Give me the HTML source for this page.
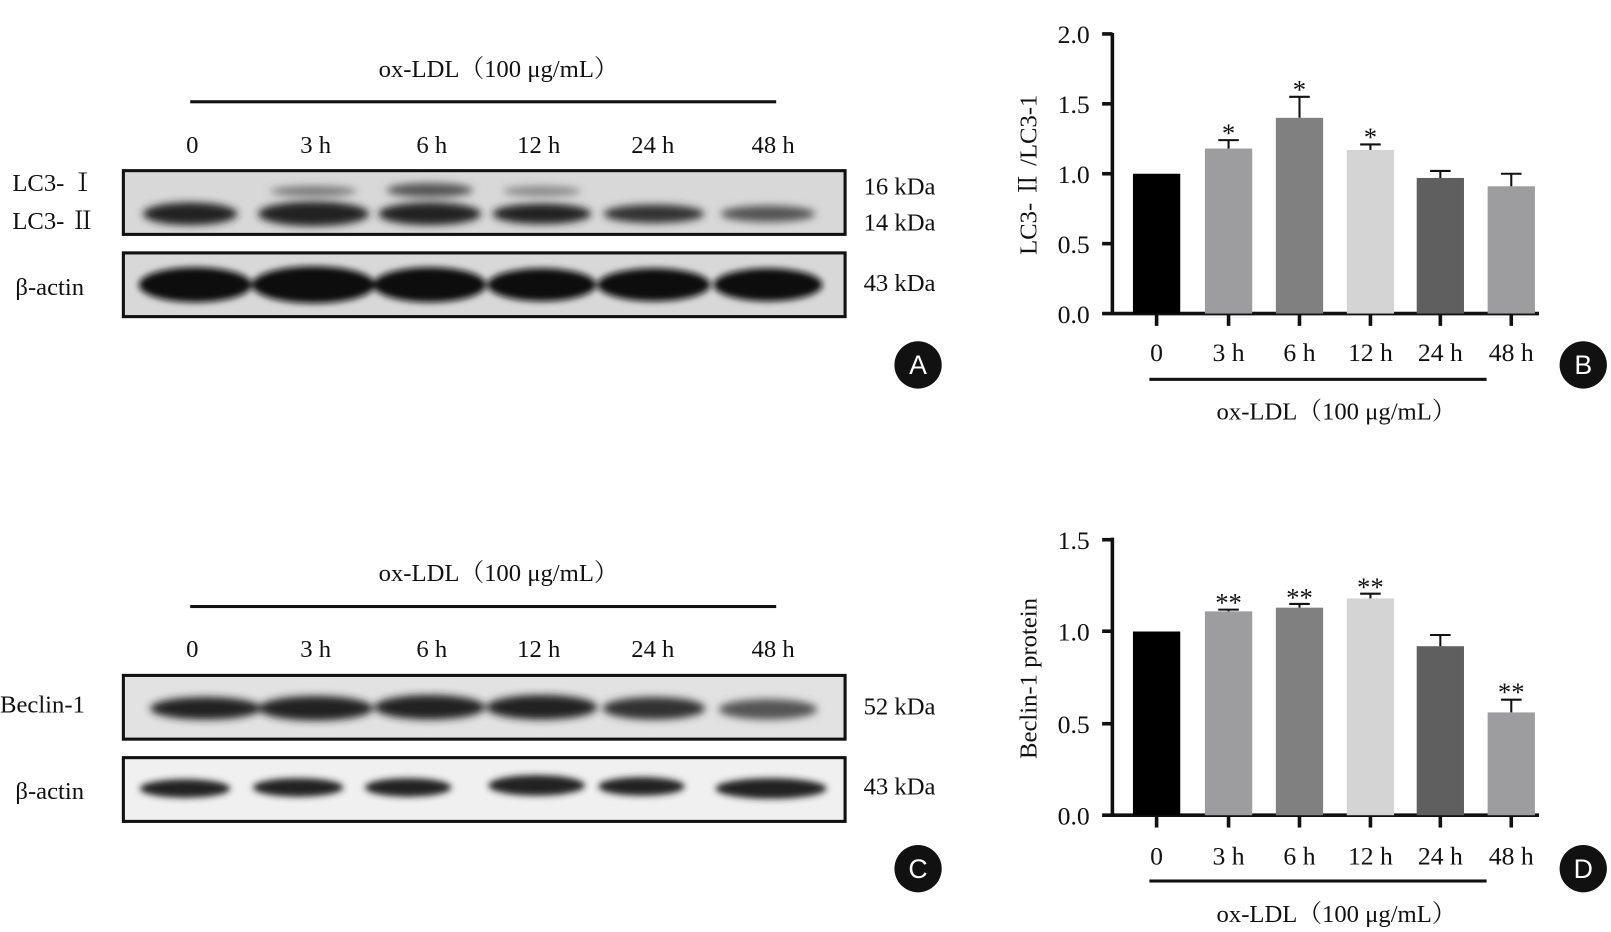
<!DOCTYPE html>
<html><head><meta charset="utf-8"><style>
html,body{margin:0;padding:0;background:#fff;}
svg{display:block;}
text{font-family:"Liberation Serif","Noto Serif CJK SC",serif;fill:#111;}
</style></head><body>
<svg width="1611" height="932" viewBox="0 0 1567 906.6" preserveAspectRatio="none" xmlns="http://www.w3.org/2000/svg">
<defs>
<filter id="bl" x="-30%" y="-80%" width="160%" height="260%"><feGaussianBlur stdDeviation="4"/></filter>
<filter id="bl2" x="-30%" y="-80%" width="160%" height="260%"><feGaussianBlur stdDeviation="3"/></filter>
</defs>
<g font-size="24">
<!-- Panel A -->
<text x="485" y="75" text-anchor="middle">ox-LDL（100 μg/mL）</text>
<rect x="185" y="97.5" width="570" height="3" fill="#111"/>
<g text-anchor="middle"><text x="187" y="149">0</text><text x="307" y="149">3 h</text><text x="420" y="149">6 h</text><text x="524" y="149">12 h</text><text x="635" y="149">24 h</text><text x="752" y="149">48 h</text></g>
<rect x="120" y="166" width="702" height="62" fill="#d8d8d8" stroke="#111" stroke-width="3"/>
<g filter="url(#bl)" fill="#222">
<ellipse cx="185" cy="208" rx="46" ry="11"/><ellipse cx="305" cy="208" rx="54" ry="12"/><ellipse cx="418" cy="208" rx="50" ry="11"/><ellipse cx="527" cy="208" rx="48" ry="10"/><ellipse cx="636" cy="208" rx="49" ry="9" fill="#333"/><ellipse cx="747" cy="208" rx="46" ry="8" fill="#555"/>
<ellipse cx="305" cy="186" rx="42" ry="5" fill="#777"/><ellipse cx="418" cy="185" rx="42" ry="7" fill="#555"/><ellipse cx="527" cy="186" rx="38" ry="5" fill="#888"/>
</g>
<rect x="120" y="246" width="702" height="62" fill="#d8d8d8" stroke="#111" stroke-width="3"/>
<g filter="url(#bl2)" fill="#111">
<ellipse cx="190" cy="277" rx="55" ry="17"/><ellipse cx="305" cy="277" rx="60" ry="18"/><ellipse cx="418" cy="277" rx="55" ry="17"/><ellipse cx="527" cy="277" rx="53" ry="16"/><ellipse cx="636" cy="277" rx="55" ry="16"/><ellipse cx="747" cy="277" rx="53" ry="16"/>
</g>
<text x="12" y="186">LC3- Ⅰ</text><text x="12" y="223">LC3- Ⅱ</text><text x="15" y="287">β-actin</text>
<text x="840" y="189">16 kDa</text><text x="840" y="224">14 kDa</text><text x="840" y="283">43 kDa</text>
<circle cx="893" cy="355" r="23" fill="#111"/><text x="893" y="364" text-anchor="middle" font-size="26" style="fill:#fff;font-family:'Liberation Sans'">A</text>

<!-- Panel C -->
<text x="485" y="565" text-anchor="middle">ox-LDL（100 μg/mL）</text>
<rect x="185" y="588.5" width="570" height="3" fill="#111"/>
<g text-anchor="middle"><text x="187" y="639">0</text><text x="307" y="639">3 h</text><text x="420" y="639">6 h</text><text x="524" y="639">12 h</text><text x="635" y="639">24 h</text><text x="752" y="639">48 h</text></g>
<rect x="120" y="657" width="702" height="62" fill="#e2e2e2" stroke="#111" stroke-width="3"/>
<g filter="url(#bl)" fill="#222">
<ellipse cx="200" cy="689" rx="54" ry="11"/><ellipse cx="307" cy="689" rx="56" ry="12"/><ellipse cx="418" cy="688" rx="54" ry="12"/><ellipse cx="527" cy="688" rx="54" ry="12"/><ellipse cx="636" cy="689" rx="50" ry="11" fill="#333"/><ellipse cx="747" cy="690" rx="48" ry="10" fill="#555"/>
</g>
<rect x="120" y="737" width="702" height="62" fill="#f0f0f0" stroke="#111" stroke-width="3"/>
<g filter="url(#bl2)" fill="#222">
<ellipse cx="180" cy="767" rx="44" ry="9"/><ellipse cx="290" cy="766" rx="44" ry="9"/><ellipse cx="397" cy="766" rx="42" ry="9"/><ellipse cx="522" cy="764" rx="47" ry="10"/><ellipse cx="624" cy="765" rx="42" ry="9"/><ellipse cx="750" cy="767" rx="54" ry="10"/>
</g>
<text x="0" y="693">Beclin-1</text><text x="15" y="777">β-actin</text>
<text x="840" y="695">52 kDa</text><text x="840" y="773">43 kDa</text>
<circle cx="893" cy="845" r="23" fill="#111"/><text x="893" y="854" text-anchor="middle" font-size="26" style="fill:#fff;font-family:'Liberation Sans'">C</text>

<!-- Panel B -->
<g stroke="#111" stroke-width="3.5" fill="none">
<line x1="1082" y1="32" x2="1082" y2="306"/><line x1="1072" y1="305" x2="1497" y2="305"/>
<line x1="1072" y1="33" x2="1082" y2="33"/><line x1="1072" y1="101" x2="1082" y2="101"/><line x1="1072" y1="169" x2="1082" y2="169"/><line x1="1072" y1="237" x2="1082" y2="237"/>
<line x1="1125" y1="305" x2="1125" y2="317"/><line x1="1195" y1="305" x2="1195" y2="317"/><line x1="1264" y1="305" x2="1264" y2="317"/><line x1="1333" y1="305" x2="1333" y2="317"/><line x1="1401" y1="305" x2="1401" y2="317"/><line x1="1470" y1="305" x2="1470" y2="317"/>
</g>
<g text-anchor="end" font-size="25"><text x="1060" y="42">2.0</text><text x="1060" y="110">1.5</text><text x="1060" y="178">1.0</text><text x="1060" y="246">0.5</text><text x="1060" y="314">0.0</text></g>
<text transform="translate(1008,170) rotate(-90)" text-anchor="middle" font-size="24">LC3- Ⅱ /LC3-1</text>
<g>
<rect x="1102" y="169" width="46" height="136" fill="#000"/>
<rect x="1172" y="144.5" width="46" height="160.5" fill="#9d9da0"/>
<rect x="1241" y="114.6" width="46" height="190.4" fill="#808080"/>
<rect x="1310" y="145.9" width="46" height="159.1" fill="#d4d4d4"/>
<rect x="1378" y="173.1" width="46" height="131.9" fill="#5f5f5f"/>
<rect x="1447" y="181.2" width="46" height="123.8" fill="#9d9da0"/>
</g>
<g stroke="#111" stroke-width="2">
<path d="M1195 144.5V136.3M1185 136.3H1205"/><path d="M1264 114.6V94.2M1254 94.2H1274"/><path d="M1333 145.9V140.5M1323 140.5H1343"/><path d="M1401 173.1V166.3M1391 166.3H1411"/><path d="M1470 181.2V169M1460 169H1480"/>
</g>
<g text-anchor="middle" font-size="26"><text x="1195" y="138">*</text><text x="1264" y="96">*</text><text x="1333" y="142">*</text></g>
<g text-anchor="middle" font-size="25"><text x="1125" y="351">0</text><text x="1195" y="351">3 h</text><text x="1264" y="351">6 h</text><text x="1333" y="351">12 h</text><text x="1401" y="351">24 h</text><text x="1470" y="351">48 h</text></g>
<rect x="1118" y="367.5" width="328" height="3" fill="#111"/>
<text x="1300" y="408" text-anchor="middle">ox-LDL（100 μg/mL）</text>
<circle cx="1540" cy="355" r="23" fill="#111"/><text x="1540" y="364" text-anchor="middle" font-size="26" style="fill:#fff;font-family:'Liberation Sans'">B</text>

<!-- Panel D -->
<g stroke="#111" stroke-width="3.5" fill="none">
<line x1="1082" y1="523" x2="1082" y2="794"/><line x1="1072" y1="793" x2="1497" y2="793"/>
<line x1="1072" y1="525" x2="1082" y2="525"/><line x1="1072" y1="614" x2="1082" y2="614"/><line x1="1072" y1="704" x2="1082" y2="704"/>
<line x1="1125" y1="793" x2="1125" y2="805"/><line x1="1195" y1="793" x2="1195" y2="805"/><line x1="1264" y1="793" x2="1264" y2="805"/><line x1="1333" y1="793" x2="1333" y2="805"/><line x1="1401" y1="793" x2="1401" y2="805"/><line x1="1470" y1="793" x2="1470" y2="805"/>
</g>
<g text-anchor="end" font-size="25"><text x="1060" y="534">1.5</text><text x="1060" y="623">1.0</text><text x="1060" y="713">0.5</text><text x="1060" y="802">0.0</text></g>
<text transform="translate(1008,660) rotate(-90)" text-anchor="middle" font-size="24">Beclin-1 protein</text>
<g>
<rect x="1102" y="614.3" width="46" height="178.7" fill="#000"/>
<rect x="1172" y="594.7" width="46" height="198.3" fill="#9d9da0"/>
<rect x="1241" y="591.1" width="46" height="201.9" fill="#808080"/>
<rect x="1310" y="582.1" width="46" height="210.9" fill="#d4d4d4"/>
<rect x="1378" y="628.6" width="46" height="164.4" fill="#5f5f5f"/>
<rect x="1447" y="693" width="46" height="100" fill="#9d9da0"/>
</g>
<g stroke="#111" stroke-width="2">
<path d="M1195 594.7V593M1185 593H1205"/><path d="M1264 591.1V587.5M1254 587.5H1274"/><path d="M1333 582.1V577.5M1323 577.5H1343"/><path d="M1401 628.6V617.7M1391 617.7H1411"/><path d="M1470 693V680.6M1460 680.6H1480"/>
</g>
<g text-anchor="middle" font-size="26"><text x="1195" y="595">**</text><text x="1264" y="590">**</text><text x="1333" y="580">**</text><text x="1470" y="682">**</text></g>
<g text-anchor="middle" font-size="25"><text x="1125" y="841">0</text><text x="1195" y="841">3 h</text><text x="1264" y="841">6 h</text><text x="1333" y="841">12 h</text><text x="1401" y="841">24 h</text><text x="1470" y="841">48 h</text></g>
<rect x="1118" y="855.5" width="328" height="3" fill="#111"/>
<text x="1300" y="897" text-anchor="middle">ox-LDL（100 μg/mL）</text>
<circle cx="1540" cy="845" r="23" fill="#111"/><text x="1540" y="854" text-anchor="middle" font-size="26" style="fill:#fff;font-family:'Liberation Sans'">D</text>
</g>
</svg>
</body></html>
